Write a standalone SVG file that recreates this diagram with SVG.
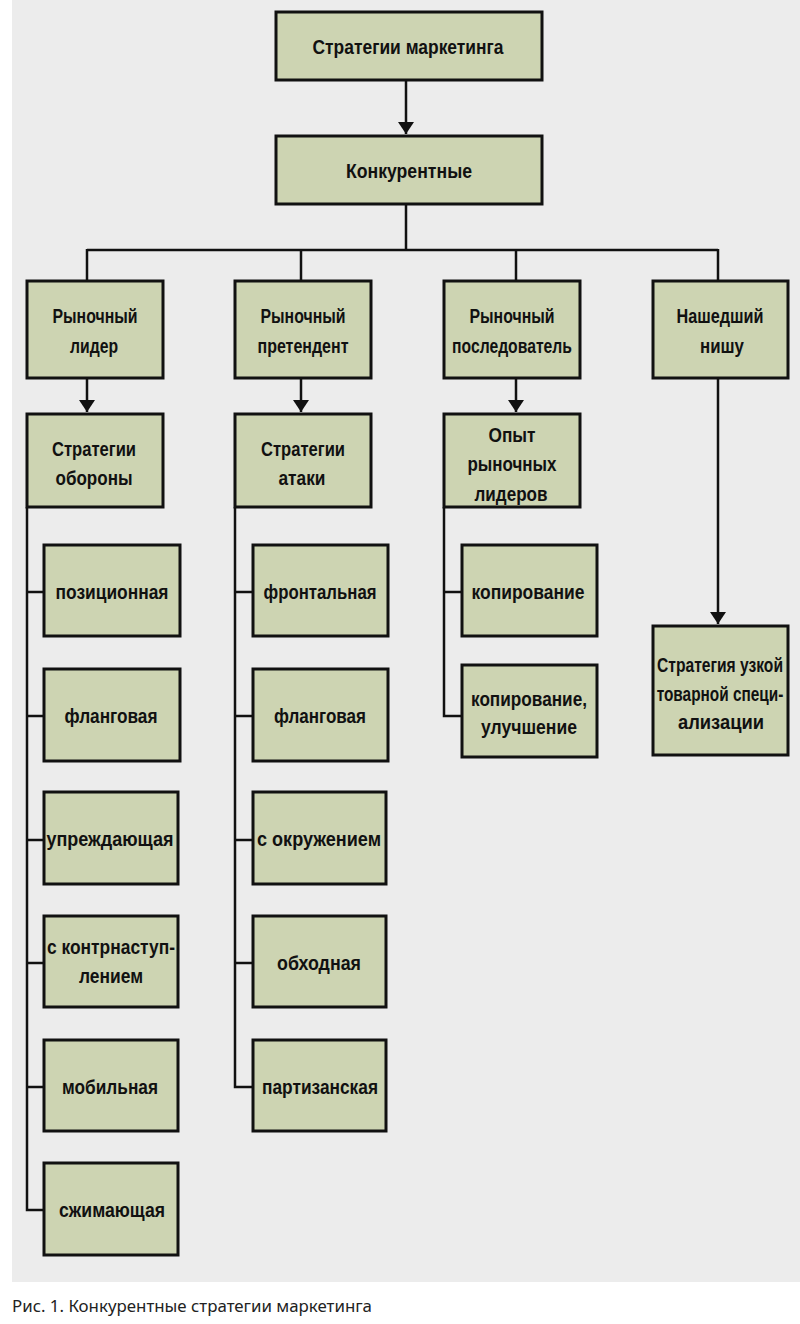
<svg xmlns="http://www.w3.org/2000/svg" width="800" height="1324" viewBox="0 0 800 1324">
<style>
.b{fill:#cdd4b2;stroke:#111;stroke-width:3}
.t{font-family:"Liberation Sans",Arial,sans-serif;font-weight:bold;font-size:21px;fill:#111;text-anchor:middle}
.c{fill:none;stroke:#111;stroke-width:2.5}
.cap{font-family:"Noto Sans","Liberation Sans",sans-serif;font-size:16.3px;fill:#222}
</style>
<defs>
<marker id="ar" viewBox="0 0 12 16" refX="12" refY="8" markerWidth="12" markerHeight="16" markerUnits="userSpaceOnUse" orient="auto">
<path d="M0,0 L12,8 L0,16 Z" fill="#111"/>
</marker>
</defs>
<rect x="0" y="0" width="800" height="1324" fill="#fff"/>
<rect x="12" y="0" width="788" height="1282" fill="#ececec"/>
<g id="connectors">
<path class="c" d="M406,80 V134" marker-end="url(#ar)"/>
<path class="c" d="M406,204 V250 M87,250 H718 M87,249 V281 M301,249 V281 M516,249 V281"/>
<path class="c" d="M718,249 V281"/>
<path class="c" d="M87,378 V412" marker-end="url(#ar)"/>
<path class="c" d="M301,378 V412" marker-end="url(#ar)"/>
<path class="c" d="M516,378 V412" marker-end="url(#ar)"/>
<path class="c" d="M718,378 V624" marker-end="url(#ar)"/>
<path class="c" d="M27,507 V1210 H44 M27,592 H44 M27,716 H44 M27,840 H44 M27,963 H44 M27,1087 H44"/>
<path class="c" d="M235,507 V1087 H253 M235,592 H253 M235,716 H253 M235,840 H253 M235,963 H253"/>
<path class="c" d="M444,507 V716 H462 M444,592 H462"/>
</g>
<g id="n_top"><rect class="b" x="276" y="12" width="266" height="68"/><text class="t" x="408" y="54" textLength="191" lengthAdjust="spacingAndGlyphs">Стратегии маркетинга</text></g>
<g id="n_konk"><rect class="b" x="276" y="136" width="266" height="68"/><text class="t" x="409" y="178" textLength="126" lengthAdjust="spacingAndGlyphs">Конкурентные</text></g>
<g id="n_leader"><rect class="b" x="27" y="281" width="136" height="97"/><text class="t" x="95" y="323" textLength="85" lengthAdjust="spacingAndGlyphs">Рыночный</text><text class="t" x="94" y="353" textLength="48" lengthAdjust="spacingAndGlyphs">лидер</text></g>
<g id="n_challenger"><rect class="b" x="235" y="281" width="136" height="97"/><text class="t" x="303" y="323" textLength="85" lengthAdjust="spacingAndGlyphs">Рыночный</text><text class="t" x="303" y="353" textLength="91" lengthAdjust="spacingAndGlyphs">претендент</text></g>
<g id="n_follower"><rect class="b" x="444" y="281" width="136" height="97"/><text class="t" x="512" y="323" textLength="85" lengthAdjust="spacingAndGlyphs">Рыночный</text><text class="t" x="512" y="353" textLength="120" lengthAdjust="spacingAndGlyphs">последователь</text></g>
<g id="n_nicher"><rect class="b" x="653" y="281" width="135" height="97"/><text class="t" x="720" y="323" textLength="87" lengthAdjust="spacingAndGlyphs">Нашедший</text><text class="t" x="722" y="353" textLength="44" lengthAdjust="spacingAndGlyphs">нишу</text></g>
<g id="n_defense"><rect class="b" x="27" y="414" width="136" height="93"/><text class="t" x="94" y="456" textLength="84" lengthAdjust="spacingAndGlyphs">Стратегии</text><text class="t" x="94" y="485" textLength="77" lengthAdjust="spacingAndGlyphs">обороны</text></g>
<g id="n_attack"><rect class="b" x="235" y="414" width="136" height="93"/><text class="t" x="303" y="456" textLength="84" lengthAdjust="spacingAndGlyphs">Стратегии</text><text class="t" x="302" y="485" textLength="47" lengthAdjust="spacingAndGlyphs">атаки</text></g>
<g id="n_experience"><rect class="b" x="444" y="414" width="136" height="93"/><text class="t" x="512" y="442" textLength="47" lengthAdjust="spacingAndGlyphs">Опыт</text><text class="t" x="512" y="471" textLength="89" lengthAdjust="spacingAndGlyphs">рыночных</text><text class="t" x="511" y="501" textLength="73" lengthAdjust="spacingAndGlyphs">лидеров</text></g>
<g id="n_niche_strategy"><rect class="b" x="653" y="626" width="135" height="129"/><text class="t" transform="translate(720,672) scale(0.75,1)" x="0" y="0" textLength="168" lengthAdjust="spacingAndGlyphs">Стратегия узкой</text><text class="t" transform="translate(720,701) scale(0.75,1)" x="0" y="0" textLength="169" lengthAdjust="spacingAndGlyphs">товарной специ-</text><text class="t" x="721" y="729" textLength="86" lengthAdjust="spacingAndGlyphs">ализации</text></g>
<g id="n_d1"><rect class="b" x="44" y="545" width="136" height="91"/><text class="t" x="112" y="599" textLength="113" lengthAdjust="spacingAndGlyphs">позиционная</text></g>
<g id="n_d2"><rect class="b" x="44" y="669" width="136" height="92"/><text class="t" x="111" y="723" textLength="93" lengthAdjust="spacingAndGlyphs">фланговая</text></g>
<g id="n_d3"><rect class="b" x="44" y="792" width="134" height="92"/><text class="t" x="110" y="846" textLength="127" lengthAdjust="spacingAndGlyphs">упреждающая</text></g>
<g id="n_d4"><rect class="b" x="44" y="916" width="134" height="91"/><text class="t" x="111" y="954" textLength="128" lengthAdjust="spacingAndGlyphs">с контрнаступ-</text><text class="t" x="111" y="983" textLength="64" lengthAdjust="spacingAndGlyphs">лением</text></g>
<g id="n_d5"><rect class="b" x="44" y="1040" width="134" height="91"/><text class="t" x="110" y="1094" textLength="96" lengthAdjust="spacingAndGlyphs">мобильная</text></g>
<g id="n_d6"><rect class="b" x="44" y="1163" width="134" height="92"/><text class="t" x="112" y="1217" textLength="106" lengthAdjust="spacingAndGlyphs">сжимающая</text></g>
<g id="n_a1"><rect class="b" x="253" y="545" width="135" height="91"/><text class="t" x="320" y="599" textLength="113" lengthAdjust="spacingAndGlyphs">фронтальная</text></g>
<g id="n_a2"><rect class="b" x="253" y="669" width="135" height="92"/><text class="t" x="320" y="723" textLength="92" lengthAdjust="spacingAndGlyphs">фланговая</text></g>
<g id="n_a3"><rect class="b" x="253" y="792" width="133" height="92"/><text class="t" x="319" y="846" textLength="124" lengthAdjust="spacingAndGlyphs">с окружением</text></g>
<g id="n_a4"><rect class="b" x="253" y="916" width="133" height="91"/><text class="t" x="319" y="970" textLength="84" lengthAdjust="spacingAndGlyphs">обходная</text></g>
<g id="n_a5"><rect class="b" x="253" y="1040" width="133" height="91"/><text class="t" x="320" y="1094" textLength="116" lengthAdjust="spacingAndGlyphs">партизанская</text></g>
<g id="n_f1"><rect class="b" x="462" y="545" width="135" height="91"/><text class="t" x="528" y="599" textLength="113" lengthAdjust="spacingAndGlyphs">копирование</text></g>
<g id="n_f2"><rect class="b" x="462" y="665" width="135" height="92"/><text class="t" x="529" y="706" textLength="116" lengthAdjust="spacingAndGlyphs">копирование,</text><text class="t" x="529" y="734" textLength="96" lengthAdjust="spacingAndGlyphs">улучшение</text></g>
<text class="cap" x="12" y="1312" textLength="360" lengthAdjust="spacingAndGlyphs">Рис. 1. Конкурентные стратегии маркетинга</text>
</svg>
